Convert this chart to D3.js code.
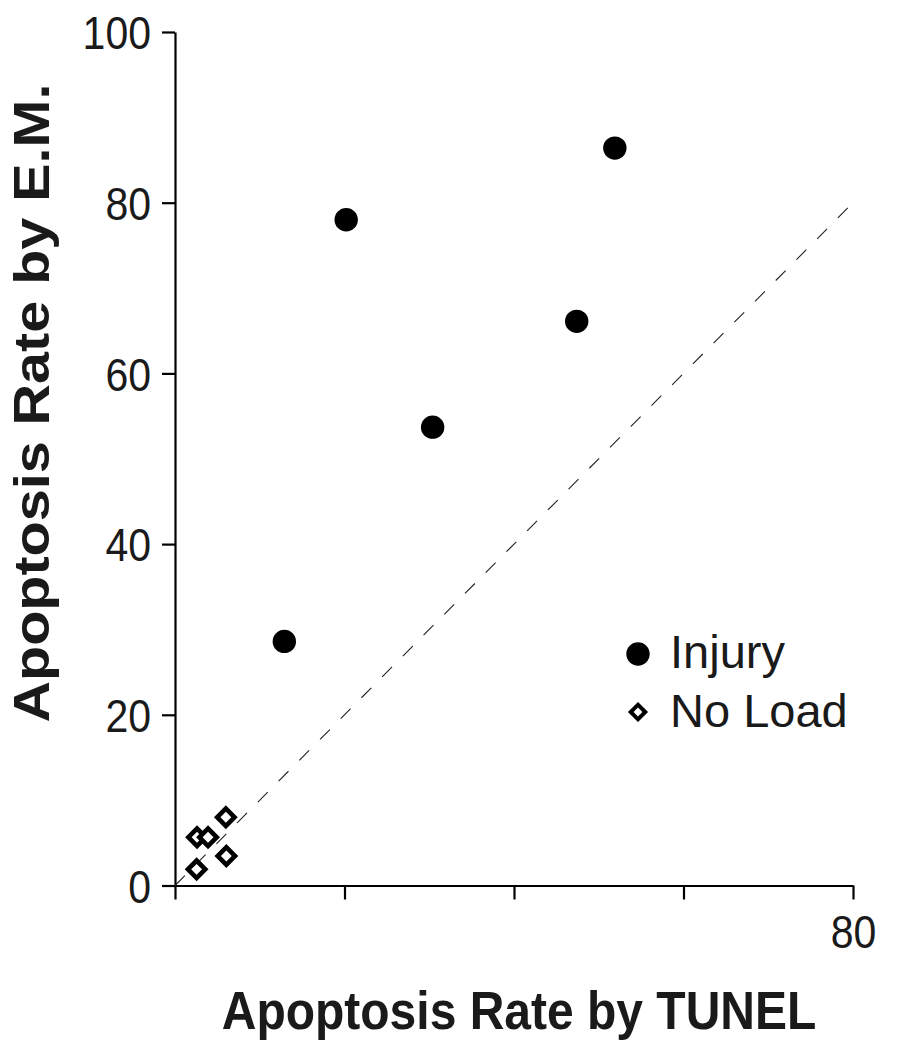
<!DOCTYPE html>
<html>
<head>
<meta charset="utf-8">
<script src="https://cdn.jsdelivr.net/npm/d3@7"></script>
<style>
  html, body { margin: 0; padding: 0; background: #fff; }
  svg { display: block; }
  text { font-family: "Liberation Sans", Arial, Helvetica, sans-serif; fill: #1a1a1a; }
</style>
</head>
<body>
<svg id="chart" width="909" height="1050"></svg>
<script>
// ---- data ----
const injuryTunel = [12.9, 20.2, 30.4, 47.4, 51.9];
const injuryEM    = [28.6, 78.0, 53.7, 66.1, 86.4];
const noLoadTunel = [6.0, 2.6, 3.9, 6.06, 2.55];
const noLoadEM    = [8.0, 5.65, 5.65, 3.46, 1.9];
const identityLine = [0, 79.4];
const xTicks = [0, 20, 40, 60, 80];
const xTickLabels = ["", "", "", "", "80"];
const yTicks = [0, 20, 40, 60, 80, 100];
const legendLabels = ["Injury", "No Load"];
const xTitle = "Apoptosis Rate by TUNEL";
const yTitle = "Apoptosis Rate by E.M.";

// ---- layout ----
const svg = d3.select("#chart");
const x = d3.scaleLinear().domain([0, 80]).range([175, 853]);
const y = d3.scaleLinear().domain([0, 100]).range([885.5, 32]);
const stretch = 1.13;

// axes
const xAxis = d3.axisBottom(x).tickValues(xTicks).tickSize(14).tickSizeOuter(0)
  .tickFormat((d, i) => xTickLabels[i]);
const yAxis = d3.axisLeft(y).tickValues(yTicks).tickSize(13).tickSizeOuter(0)
  .tickPadding(11);

const gx = svg.append("g").attr("transform", `translate(0,${y(0)})`).call(xAxis);
const gy = svg.append("g").attr("transform", `translate(${x(0)},0)`).call(yAxis);

[gx, gy].forEach(g => {
  g.select(".domain").attr("stroke", "#000").attr("stroke-width", 2.2);
  g.selectAll(".tick line").attr("stroke", "#000").attr("stroke-width", 2.2);
  g.selectAll(".tick text").attr("font-size", 41).attr("fill", "#1a1a1a")
    .style("font-family", '"Liberation Sans", Arial, sans-serif');
});
gx.selectAll(".tick text").attr("y", 0).attr("dy", 0)
  .attr("transform", `translate(0,62) scale(1,${stretch})`);
gy.selectAll(".tick text").attr("dy", "0.36em")
  .attr("transform", `scale(1,${stretch})`);

// identity dashed line
svg.append("line")
  .attr("x1", x(identityLine[0])).attr("y1", y(identityLine[0]))
  .attr("x2", x(identityLine[1])).attr("y2", y(identityLine[1]))
  .attr("stroke", "#222").attr("stroke-width", 1.1)
  .attr("stroke-dasharray", "14,15.4");

// no-load diamonds
const diamond = d3.symbol().type(d3.symbolSquare).size(150);
svg.append("g").selectAll("path")
  .data(noLoadTunel.map((v, i) => [v, noLoadEM[i]]))
  .join("path")
  .attr("d", diamond)
  .attr("transform", d => `translate(${x(d[0])},${y(d[1])}) rotate(45)`)
  .attr("fill", "#fff").attr("stroke", "#000").attr("stroke-width", 4.6);

// injury dots
svg.append("g").selectAll("circle")
  .data(injuryTunel.map((v, i) => [v, injuryEM[i]]))
  .join("circle")
  .attr("cx", d => x(d[0])).attr("cy", d => y(d[1]))
  .attr("r", 11.7).attr("fill", "#000");

// legend
const lg = svg.append("g");
lg.append("circle").attr("cx", 638).attr("cy", 654).attr("r", 11.7).attr("fill", "#000");
lg.append("path").attr("d", d3.symbol().type(d3.symbolSquare).size(105)())
  .attr("transform", "translate(638,712) rotate(45)")
  .attr("fill", "#fff").attr("stroke", "#000").attr("stroke-width", 4);
lg.selectAll("text").data(legendLabels).join("text")
  .attr("x", 670).attr("y", (d, i) => 668 + i * 59)
  .attr("font-size", 47)
  .text(d => d);

// axis titles
svg.append("text")
  .attr("transform", `translate(519,1029) scale(1,${stretch})`)
  .attr("text-anchor", "middle")
  .attr("font-size", 48).attr("font-weight", "bold")
  .text(xTitle);

svg.append("text")
  .attr("transform", "translate(49,403) rotate(-90) scale(1.15,1)")
  .attr("text-anchor", "middle")
  .attr("font-size", 50).attr("font-weight", "bold")
  .text(yTitle);
</script>
</body>
</html>
